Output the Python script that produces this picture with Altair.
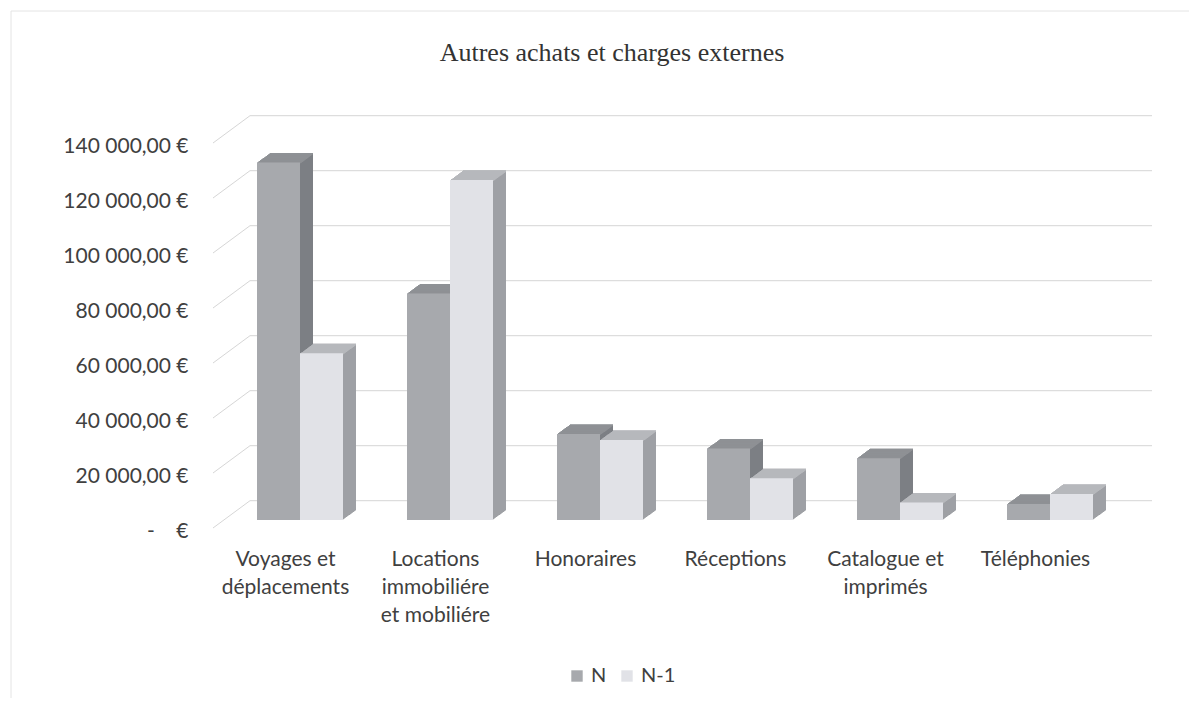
import json
import altair as alt
import pandas as pd

categories = [
    "Voyages et\ndéplacements",
    "Locations\nimmobiliére\net mobiliére",
    "Honoraires",
    "Réceptions",
    "Catalogue et\nimprimés",
    "Téléphonies",
]
values_n = [130000, 82400, 31300, 26000, 22500, 5800]
values_n1 = [60600, 123600, 29100, 15150, 6400, 9500]
series = ["N", "N-1"]
tick_values = [0, 20000, 40000, 60000, 80000, 100000, 120000, 140000]

front_colors = ["#a7a9ad", "#e1e2e7"]
top_colors = ["#8e9195", "#b6b8bc"]
side_colors = ["#7c7f84", "#9ea0a5"]

rows = []
for ci, (c, a, b) in enumerate(zip(categories, values_n, values_n1)):
    rows.append({"category": c, "ci": ci, "series": "N", "si": 0, "value": a})
    rows.append({"category": c, "ci": ci, "series": "N-1", "si": 1, "value": b})
df = pd.DataFrame(rows)
ticks_df = pd.DataFrame({"t": tick_values})

LABEL_FONT = "Lato"
BAR_W = 43.0 / 150.0  # one bar as a fraction of a category slot

yscale = alt.Scale(domain=[0, 140000], nice=False, zero=True)
xscale = alt.Scale(domain=[0, len(categories)], nice=False, zero=True)

names_js = json.dumps(categories, ensure_ascii=False)
x_axis = alt.Axis(
    values=[i + 0.5 for i in range(len(categories))],
    labelExpr=f"split({names_js}[floor(datum.value)], '\\n')",
    labelAngle=0,
    labelAlign="center",
    labelOffset=-15,
    labelPadding=28,
    labelLineHeight=28,
    labelFontSize=21,
    labelFont=LABEL_FONT,
    labelColor="#404040",
    labelLimit=0,
    labelOverlap=False,
    labelFlush=False,
    ticks=False,
    domain=False,
    grid=False,
)
NB = "\u00a0"
y_axis = alt.Axis(
    values=tick_values,
    labelExpr=(
        f"datum.value == 0 ? '-{NB*4}€' : "
        f"replace(replace(format(datum.value, ',.2f'), regexp(',', 'g'), '{NB}'), '.', ',') + '{NB}€'"
    ),
    labelOffset=11,
    labelPadding=37,
    labelFontSize=21,
    labelFont=LABEL_FONT,
    labelColor="#404040",
    ticks=False,
    domain=False,
    grid=False,
)
x_enc = alt.X("x0:Q", scale=xscale, title=None, axis=x_axis)
x2_enc = alt.X2("x1")
y_enc = alt.Y("value:Q", scale=yscale, title=None, axis=y_axis)

DEPTH = 13
SLOPE = 0.73

layers = []

# back wall gridlines
layers.append(
    alt.Chart(ticks_df)
    .mark_rule(color="#d6d6d6", strokeWidth=1, yOffset=-19.3)
    .encode(y=alt.Y("t:Q", scale=yscale, title=None, axis=y_axis), x=alt.value(25), x2=alt.value(927))
)
# side wall diagonals
layers.append(
    alt.Chart(ticks_df)
    .mark_rule(color="#d6d6d6", strokeWidth=1, yOffset=8, y2Offset=-19.3)
    .encode(
        y=alt.Y("t:Q", scale=yscale, title=None, axis=y_axis),
        y2=alt.Y2("t"),
        x=alt.value(-12),
        x2=alt.value(25),
    )
)
# faint outer frame (top and left edges)
layers.append(
    alt.Chart(ticks_df.head(1))
    .mark_rule(color="#e4e4e4", strokeWidth=1)
    .encode(x=alt.value(-214), x2=alt.value(970), y=alt.value(-124))
)
layers.append(
    alt.Chart(ticks_df.head(1))
    .mark_rule(color="#e4e4e4", strokeWidth=1)
    .encode(x=alt.value(-214), y=alt.value(-124), y2=alt.value(565))
)

for si, s in enumerate(series):
    base = (
        alt.Chart(df)
        .transform_filter(alt.datum.series == s)
        .transform_calculate(x0=f"datum.ci + 0.5 - {BAR_W} + datum.si * {BAR_W}", zero="0")
        .transform_calculate(x1=f"datum.x0 + {BAR_W}")
    )
    # side / depth extrusion
    for i in range(1, DEPTH + 1):
        layers.append(
            base.mark_bar(
                color=side_colors[si],
                xOffset=i,
                x2Offset=i,
                yOffset=-SLOPE * i,
                y2Offset=-SLOPE * i,
            ).encode(x=x_enc, x2=x2_enc, y=y_enc, y2=alt.Y2("zero"))
        )
    # top face
    for i in range(0, DEPTH + 1):
        layers.append(
            base.mark_bar(
                color=top_colors[si],
                xOffset=i,
                x2Offset=i,
                yOffset=-SLOPE * i,
                y2Offset=-SLOPE * i + 1.6,
            ).encode(x=x_enc, x2=x2_enc, y=y_enc, y2=alt.Y2("value"))
        )
    # front face
    layers.append(
        base.mark_bar().encode(
            x=x_enc,
            x2=x2_enc,
            y=y_enc,
            y2=alt.Y2("zero"),
            color=alt.Color(
                "series:N",
                scale=alt.Scale(domain=series, range=front_colors),
                legend=alt.Legend(
                    title=None,
                    orient="none",
                    legendX=342,
                    legendY=531,
                    direction="horizontal",
                    symbolType="square",
                    symbolSize=130,
                    symbolStrokeWidth=0,
                    labelFontSize=20,
                    labelFont=LABEL_FONT,
                    labelColor="#404040",
                    columnPadding=10,
                ),
            ),
        )
    )

chart = (
    alt.layer(*layers)
    .properties(
        width=900,
        height=385,
        padding={"left": 217, "top": 127, "right": 64, "bottom": 178},
        autosize=alt.AutoSizeParams(type="none"),
        view=alt.ViewBackground(stroke="transparent", strokeWidth=0),
        title=alt.TitleParams(
            "Autres achats et charges externes",
            font="Liberation Serif",
            fontSize=26,
            fontWeight="normal",
            color="#333333",
            anchor="middle",
            dx=-63,
            offset=-55,
        ),
    )
    .configure_view(strokeWidth=0, stroke="transparent")
    .configure(background="white")
)

chart.save("out.html", embed_options={"renderer": "svg", "actions": False})
